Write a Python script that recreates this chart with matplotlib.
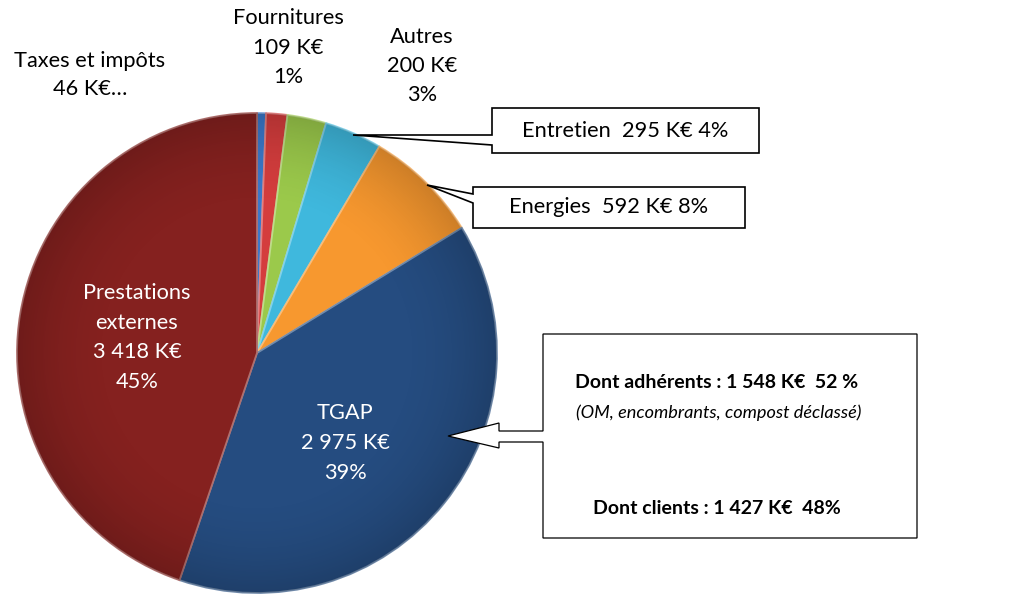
import matplotlib
matplotlib.use('Agg')
import matplotlib.pyplot as plt
import numpy as np
from matplotlib.patches import Polygon, Circle
import matplotlib.colors as mcolors

# ---- data ----
categories = ['Taxes et impôts', 'Fournitures', 'Autres', 'Entretien',
              'Energies', 'TGAP', 'Prestations externes']
values_keur = [46, 109, 200, 295, 592, 2975, 3418]
colors = ['#3b78c9', '#d43d3d', '#9bc94b', '#3fb8dd', '#f7982f', '#254c80', '#85211f']
tgap_split_labels = ['Dont adhérents : 1 548 K€  52 %',
                     '(OM, encombrants, compost déclassé)',
                     'Dont clients : 1 427 K€  48%']

FONT = 'Lato'
FS = 15.7
W, H = 1035, 597
fig = plt.figure(figsize=(W / 100, H / 100), dpi=100)
ax = fig.add_axes([0, 0, 1, 1])


def Y(y):
    return H - y


def keur(v):
    return f"{v:,}".replace(',', ' ') + ' K€'


total = sum(values_keur)
pcts = [f"{round(100 * v / total):.0f}%" for v in values_keur]

cx, cy, R = 257, Y(353), 240
wedges, _ = ax.pie(values_keur, colors=colors, startangle=90, counterclock=False,
                   center=(cx, cy), radius=R, frame=True,
                   wedgeprops=dict(linewidth=1.3))
for w, c in zip(wedges, colors):
    rgb = np.array(mcolors.to_rgb(c))
    w.set_edgecolor(tuple(rgb + (1 - rgb) * 0.35))

# radial shading overlay for the 3D look
n = 400
yy, xx = np.mgrid[-1:1:n * 1j, -1:1:n * 1j]
r = np.sqrt(xx ** 2 + yy ** 2)
shade = np.zeros((n, n, 4))
shade[..., 3] = 0.17 * np.clip((r - 0.6) / 0.4, 0, 1) ** 1.8
im = ax.imshow(shade, extent=[cx - R, cx + R, cy - R, cy + R], origin='lower',
               zorder=3, interpolation='bilinear')
clip = Circle((cx, cy), R, transform=ax.transData)
im.set_clip_path(clip)

ax.set_xlim(0, W)
ax.set_ylim(0, H)
ax.set_aspect('auto')
ax.axis('off')


def lines(x, y0, dy, items, **kw):
    for i, s in enumerate(items):
        ax.text(x, Y(y0 + i * dy), s, ha='center', va='center', fontsize=FS,
                family=FONT, zorder=6, **kw)


# outer labels
lines(90, 61, 28, [categories[0], keur(values_keur[0]) + '…'], color='black')
lines(288, 18, 29.5, [categories[1], keur(values_keur[1]), pcts[1]], color='black')
lines(422, 37, 29, [categories[2], keur(values_keur[2]), pcts[2]], color='black')

# inner labels
lines(137, 293, 29.7, ['Prestations', 'externes', keur(values_keur[6]), pcts[6]], color='white')
lines(345, 413, 30, [categories[5], keur(values_keur[5]), pcts[5]], color='white')

# callouts
ent = [(492, 108), (759, 108), (759, 153), (492, 153), (492, 145), (353, 135), (492, 135)]
ax.add_patch(Polygon([(x, Y(y)) for x, y in ent], closed=True, facecolor='white',
                     edgecolor='black', lw=1.2, zorder=5))
ax.text(625, Y(131), f"{categories[3]}  {keur(values_keur[3])} {pcts[3]}", ha='center',
        va='center', fontsize=FS, family=FONT, zorder=6)

ene = [(473, 187), (745, 187), (745, 228), (473, 228), (473, 203), (427, 185), (473, 194)]
ax.add_patch(Polygon([(x, Y(y)) for x, y in ene], closed=True, facecolor='white',
                     edgecolor='black', lw=1.2, zorder=5))
ax.text(609, Y(207), f"{categories[4]}  {keur(values_keur[4])} {pcts[4]}", ha='center',
        va='center', fontsize=FS, family=FONT, zorder=6)

tg = [(543, 334), (917, 334), (917, 538), (543, 538), (543, 442), (499, 442), (499, 448),
      (448, 436), (499, 423), (499, 431), (543, 431)]
ax.add_patch(Polygon([(x, Y(y)) for x, y in tg], closed=True, facecolor='white',
                     edgecolor='black', lw=0.9, zorder=5))
ax.text(717, Y(382), tgap_split_labels[0], ha='center', va='center', fontsize=14,
        family=FONT, fontweight='bold', zorder=6)
ax.text(719, Y(413), tgap_split_labels[1], ha='center', va='center', fontsize=13.1,
        family=FONT, style='italic', zorder=6)
ax.text(717, Y(508), tgap_split_labels[2], ha='center', va='center', fontsize=14,
        family=FONT, fontweight='bold', zorder=6)

fig.savefig('out.png', dpi=100)
